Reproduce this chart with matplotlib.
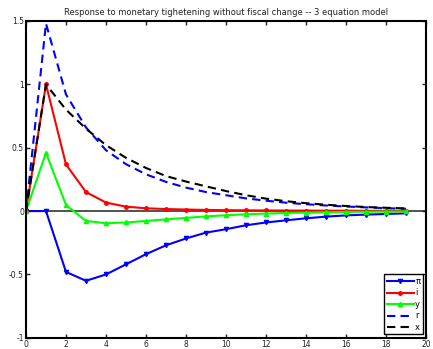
import numpy as np
import matplotlib
matplotlib.use('Agg')
import matplotlib.pyplot as plt

# periods
t = list(range(20))

# impulse responses
pi = [0, 0, -0.48, -0.55, -0.50, -0.42, -0.34, -0.27, -0.216, -0.17,
      -0.143, -0.112, -0.09, -0.073, -0.057, -0.044, -0.034, -0.028, -0.023, -0.018]
i_rate = [0, 1.0, 0.368, 0.15, 0.067, 0.035, 0.022, 0.016, 0.012, 0.009,
          0.007, 0.006, 0.005, 0.004, 0.004, 0.003, 0.003, 0.002, 0.002, 0.002]
y = [0, 0.46, 0.048, -0.078, -0.096, -0.09, -0.078, -0.065, -0.054, -0.042,
     -0.033, -0.025, -0.02, -0.015, -0.012, -0.009, -0.007, -0.005, -0.004, -0.003]
r = [0, 1.48, 0.92, 0.66, 0.48, 0.37, 0.29, 0.23, 0.185, 0.15,
     0.125, 0.1, 0.082, 0.066, 0.054, 0.044, 0.036, 0.029, 0.023, 0.018]
x_gap = [0, 1.0, 0.8, 0.65, 0.52, 0.42, 0.34, 0.276, 0.233, 0.195,
         0.158, 0.125, 0.098, 0.078, 0.062, 0.05, 0.04, 0.032, 0.026, 0.021]

labels = ['\u03c0', 'i', 'y', 'r', 'x']

fig = plt.figure(figsize=(4.33, 3.49), dpi=100)
ax = fig.add_axes([0.06, 0.032, 0.924, 0.908])

ax.axhline(0, color='#333333', lw=1.2, zorder=1)

ax.plot(t, pi, color='#0000ff', lw=1.5, marker='v', ms=3, label=labels[0])
ax.plot(t, i_rate, color='#ff0000', lw=1.5, marker='o', ms=2.5, label=labels[1])
ax.plot(t, y, color='#00ff00', lw=1.5, marker='^', ms=3, label=labels[2])
ax.plot(t, r, color='#0000ff', lw=1.5, ls=(0, (4, 2.5)), label=labels[3])
ax.plot(t, x_gap, color='#000000', lw=1.5, ls=(0, (4, 2.5)), label=labels[4])

ax.set_xlim(0, 20)
ax.set_ylim(-1, 1.5)
ax.set_xticks(range(0, 21, 2))
ax.set_yticks([-1, -0.5, 0, 0.5, 1, 1.5])
ax.set_yticklabels(['-1', '-0.5', '0', '0.5', '1', '1.5'])
ax.tick_params(direction='in', top=True, right=True, labelsize=5.5, length=3,
               width=1, pad=1.5, colors='#222222')
for s in ax.spines.values():
    s.set_linewidth(1.5)

ax.set_title('Response to monetary tighetening without fiscal change -- 3 equation model',
             fontsize=6, pad=4, color='#222222')

leg = ax.legend(loc='lower right', fontsize=6, fancybox=False, framealpha=1,
                edgecolor='black', handlelength=3.2, handletextpad=0.2,
                labelspacing=0.3, borderpad=0.3, borderaxespad=0.4)
leg.get_frame().set_linewidth(1.0)

fig.savefig('out.png', dpi=100)
